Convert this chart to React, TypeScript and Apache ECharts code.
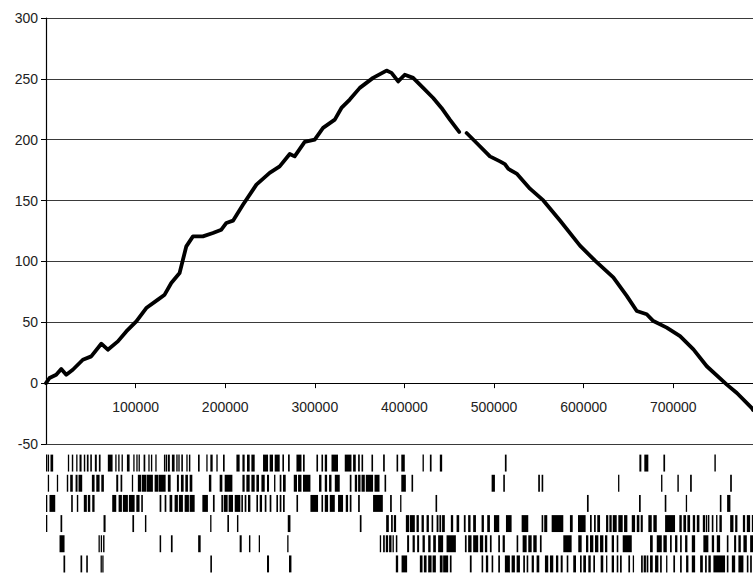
import React, { useEffect, useRef } from "react";
import * as echarts from "echarts";

// genome axis (bp) and cumulative skew
const xMin = 0;
const xMax = 789000;
const xInterval = 100000;
const yMin = -50;
const yMax = 300;
const yInterval = 50;

const skewPos: number[] = [
  0, 3900, 11400, 17000, 22600, 29900, 41100, 50500, 61700, 69000, 80200, 89600,
  100800, 111900, 124900, 132400, 139800, 149100, 152800, 156600, 164000, 175100,
  186300, 195700, 201300, 208700, 219800, 234800, 249600, 260800, 272000, 277500,
  288700, 299900, 309200, 322300, 329700, 339000, 350200, 365000, 380000, 385600,
  393000, 400400, 409700, 420900, 432100, 441400, 450700, 461100, 465000, 469400,
  480600, 495400, 506600, 512100, 516000, 525200, 540100, 555000, 573600, 595900,
  612700, 633100, 648100, 659300, 670400, 677800, 692700, 707600, 722500, 737400,
  759800, 771000, 787700, 789000,
];
const skewVal: (number | null)[] = [
  0, 4.2, 6.9, 11.6, 6.9, 11, 19.2, 22, 32.4, 27.5, 34.3, 42.5,
  50.7, 61.7, 68.6, 72.7, 82.3, 90.5, 101.4, 112.4, 120.6, 120.6,
  123.4, 126.1, 131.6, 133.5, 146.6, 163.1, 172.7, 178.1, 188.3, 186.3,
  198.2, 200.1, 209.7, 216.5, 226.1, 233, 242.6, 250.8, 256.8, 254.9,
  247.9, 253.4, 250.8, 242.6, 234.3, 226.1, 216.5, 206.4, null, 205.5,
  197.3, 186.3, 182.2, 180, 176, 172.2, 159.8, 150.1, 133.6, 113,
  100.6, 86.9, 71.7, 59.3, 56.6, 51, 45.6, 38.7, 27.7, 13.9,
  -1.2, -8.1, -20.5, -22,
];

// gene intervals [start, end] in bp, six tracks
const track1: number[][] = [[0,900],[2000,3100],[5000,8000],[24400,25500],[28800,30400],[33700,34900],[37400,39700],[42200,43800],[45600,47500],[49400,51200],[54500,56700],[59000,60900],[69000,74300],[77300,78400],[80600,82100],[84300,85800],[90300,93300],[97400,98500],[100800,101900],[103300,104400],[108900,110800],[114200,115600],[117100,118600],[122000,123100],[131600,132700],[133500,135200],[136000,138200],[140500,143500],[145400,146900],[147700,149100],[151000,152800],[156600,157700],[159500,161100],[169600,171500],[178900,180100],[183400,186000],[190100,191600],[197500,199400],[212500,216100],[219200,221700],[224300,227300],[229200,232900],[242200,247800],[249600,253300],[255200,260800],[263800,265600],[270100,272000],[279500,285100],[286800,288700],[301800,303600],[307400,309200],[311100,313700],[318600,325900],[333400,340900],[342700,345700],[348300,350200],[352100,353900],[363200,365000],[376200,378100],[391200,393000],[396500,400400],[420200,421700],[428400,430300],[439500,442100],[512100,514000],[662200,664400],[667700,672200],[689000,690900],[745900,747500]];
const track2: number[][] = [[2000,3100],[12100,13200],[23200,24800],[27000,29900],[33000,35200],[36300,40400],[51200,54200],[56100,59800],[61700,64600],[78400,80600],[83200,85100],[95800,97000],[102500,106000],[106800,112000],[112500,119300],[121200,125000],[125500,133500],[136000,139100],[146100,148300],[150600,153600],[155500,158400],[160300,163300],[181800,184500],[193800,196800],[199400,208000],[219200,221700],[223600,227300],[229200,232900],[234800,237700],[240400,244100],[246600,248900],[254500,256000],[260800,262700],[264500,267500],[276500,280100],[281300,285100],[286800,295100],[304700,307400],[311100,313700],[315900,318600],[322300,327800],[339000,340900],[344600,347200],[348300,351000],[352100,355800],[356900,365000],[366600,372200],[377800,379600],[396500,401600],[407900,409700],[497300,501000],[510300,512100],[549300,551200],[553100,554900],[638400,639800],[686400,687900],[704600,706200],[718800,720700],[763500,765400]];
const track3: number[][] = [[0,900],[3900,10300],[28100,29900],[34400,36000],[42200,45600],[46700,49400],[51600,54200],[73900,78400],[81000,84700],[85800,91400],[92500,98900],[100800,104400],[106300,108100],[126800,128700],[132400,134300],[137900,140900],[143500,147200],[148300,152800],[154700,159500],[160300,165900],[174500,180700],[186300,188200],[195700,197500],[198300,202700],[203800,208700],[210600,216900],[218000,219800],[221700,223600],[225400,228100],[234800,236600],[238500,241100],[244100,246000],[249600,251500],[257100,258900],[260800,262700],[264500,266400],[279500,281300],[295100,303600],[307400,309200],[311100,314800],[316700,322300],[325900,331500],[334500,337100],[339000,340900],[348300,350200],[365000,375900],[384000,385900],[395200,396300],[434700,436500],[603700,605600],[661800,663700],[690500,692300],[714000,715400],[752000,753800],[760100,763800]];
const track4: number[][] = [[0,900],[16200,18100],[64200,66500],[96400,98300],[110400,112000],[183200,184100],[202400,204200],[213100,214700],[269800,272800],[350200,352100],[379600,382600],[385100,387000],[388200,390700],[401600,405200],[406000,411600],[413500,416100],[419100,421700],[424700,427300],[430300,432100],[435900,438000],[439000,441000],[442000,445100],[451800,454400],[458200,461100],[466300,468300],[471100,473800],[476700,479800],[486100,488700],[492400,495400],[499900,505800],[513300,519600],[530800,538200],[553100,554900],[556000,559400],[564300,577300],[584700,587800],[593700,602200],[607100,609000],[611600,613500],[615200,618300],[625000,627500],[628700,631300],[632500,636900],[638700,643600],[645100,648800],[653700,657400],[659300,662200],[663700,666000],[672200,676000],[677800,681600],[690900,702000],[706800,709500],[711300,714300],[715800,718800],[721800,724400],[726300,729200],[733000,735500],[736300,738000],[738800,740300],[743000,744800],[747800,749300],[751500,754200],[763500,767200],[769100,771600],[777700,780200],[782100,785800],[787700,789000]];
const track5: number[][] = [[15100,20700],[58600,59800],[61100,62200],[63700,65300],[126800,128500],[139400,141300],[169800,172600],[216100,218400],[226500,228100],[237400,238800],[269200,270300],[372500,374000],[376200,378100],[379200,381800],[382900,385600],[386700,388200],[390400,392100],[403000,405200],[409100,411600],[414200,416400],[420200,422800],[426500,429200],[432100,435100],[437600,443200],[447000,457400],[467500,469400],[471100,474900],[476700,482300],[484200,487900],[489800,492400],[495400,497300],[504700,506600],[509600,512100],[525200,527000],[531900,536400],[538200,542000],[543800,547600],[551200,553100],[577300,586600],[594000,597800],[602600,605200],[607100,610800],[612700,616400],[618300,622000],[623800,626400],[631300,633900],[636900,638700],[643600,653700],[674100,677100],[681600,687200],[689000,692800],[696400,698300],[702000,704600],[707600,709500],[713200,715800],[720700,724400],[733600,739200],[743000,745600],[748600,752300],[759800,761600],[767900,770200],[772700,775400],[778300,782100],[785800,789000]];
const track6: number[][] = [[19500,21400],[38500,40400],[44900,46700],[60900,61800],[62800,63700],[183400,185200],[246600,248900],[271200,273900],[390400,393000],[396800,403000],[417200,420200],[421700,424700],[426500,430300],[431400,435100],[439500,442600],[443200,448800],[450700,452600],[473000,475000],[486100,487900],[490900,493500],[497300,499100],[504700,506600],[512100,517700],[519600,523300],[525200,528900],[532600,534500],[536400,538200],[542000,544500],[547500,550500],[556800,560500],[562400,566100],[569100,571700],[574400,576600],[581100,582900],[588400,591500],[595900,597800],[599600,602600],[605200,607900],[610800,612700],[619000,621900],[625000,626400],[631300,633900],[636900,638700],[640600,642500],[649900,651800],[654800,656200],[664100,666000],[667000,669500],[670300,672200],[674100,677100],[679700,683400],[685300,687200],[692000,693400],[700100,702000],[707600,709500],[714300,716900],[720700,724400],[730000,733000],[735500,737400],[739200,741900],[744800,757800],[759800,761600],[765400,769100],[772700,778300],[782100,783900],[785800,787700]];

const trackNames = ["1", "2", "3", "4", "5", "6"];
const tracks = [track1, track2, track3, track4, track5, track6];

const FONT = "'Liberation Sans', Arial, sans-serif";
const PLOT_TOP = 18;
const PLOT_H = 426;

export default function App() {
  const ref = useRef<HTMLDivElement>(null);
  useEffect(() => {
    if (!ref.current) return;
    const chart = echarts.init(ref.current, null, { renderer: "svg" });
    const lineData = skewPos.map((p, i) => [p, skewVal[i]]);
    const geneData: number[][] = [];
    tracks.forEach((t, r) => t.forEach(([s, e]) => geneData.push([s, e, r])));
    // lift the x axis from the grid bottom (yMin) to the zero line
    const zeroOffset = -((0 - yMin) / (yMax - yMin)) * PLOT_H;
    chart.setOption({
      animation: false,
      backgroundColor: "#ffffff",
      grid: [
        { left: 46, right: 0, top: PLOT_TOP, height: PLOT_H, containLabel: false },
        { left: 46, right: 0, top: 453, height: 125, containLabel: false },
      ],
      xAxis: [
        {
          type: "value",
          gridIndex: 0,
          position: "bottom",
          offset: zeroOffset,
          min: xMin,
          max: xMax,
          interval: xInterval,
          axisLine: { show: true, onZero: false, lineStyle: { color: "#000", width: 1.2 } },
          axisTick: { show: true, length: 5, lineStyle: { color: "#000" } },
          axisLabel: {
            show: true,
            margin: 17,
            fontSize: 14,
            fontFamily: FONT,
            color: "#222",
            showMaxLabel: false,
            formatter: (v: number) => (v === 0 || v % xInterval !== 0 ? "" : String(v)),
          },
          splitLine: { show: false },
        },
        {
          type: "value",
          gridIndex: 1,
          min: xMin,
          max: xMax,
          show: false,
        },
      ],
      yAxis: [
        {
          type: "value",
          gridIndex: 0,
          min: yMin,
          max: yMax,
          interval: yInterval,
          axisLine: { show: true, onZero: false, lineStyle: { color: "#000", width: 1.2 } },
          axisTick: { show: true, length: 5, lineStyle: { color: "#000" } },
          axisLabel: { margin: 8, fontSize: 14, fontFamily: FONT, color: "#222" },
          splitLine: { show: true, lineStyle: { color: "#3a3a3a", width: 1 } },
        },
        {
          type: "category",
          gridIndex: 1,
          data: trackNames,
          inverse: true,
          show: false,
        },
      ],
      series: [
        {
          type: "line",
          xAxisIndex: 0,
          yAxisIndex: 0,
          data: lineData,
          showSymbol: false,
          symbol: "none",
          connectNulls: false,
          lineStyle: { color: "#000", width: 3.8, join: "round", cap: "round" },
          z: 5,
        },
        {
          type: "custom",
          xAxisIndex: 1,
          yAxisIndex: 1,
          data: geneData,
          encode: { x: [0, 1], y: 2 },
          clip: true,
          renderItem: (params: any, api: any) => {
            const s = api.value(0);
            const e = api.value(1);
            const r = api.value(2);
            const p0 = api.coord([s, r]);
            const p1 = api.coord([e, r]);
            const band = api.size([0, 1])[1];
            const h = band * 0.84;
            const w = Math.max(p1[0] - p0[0], 1.3);
            return {
              type: "rect",
              shape: { x: p0[0], y: p0[1] - h / 2, width: w, height: h },
              style: { fill: "#000" },
            };
          },
        },
      ],
    });
    return () => chart.dispose();
  }, []);
  return (
    <div
      ref={ref}
      style={{ position: "absolute", left: 0, top: 0, width: 753, height: 574, background: "#fff" }}
    />
  );
}
